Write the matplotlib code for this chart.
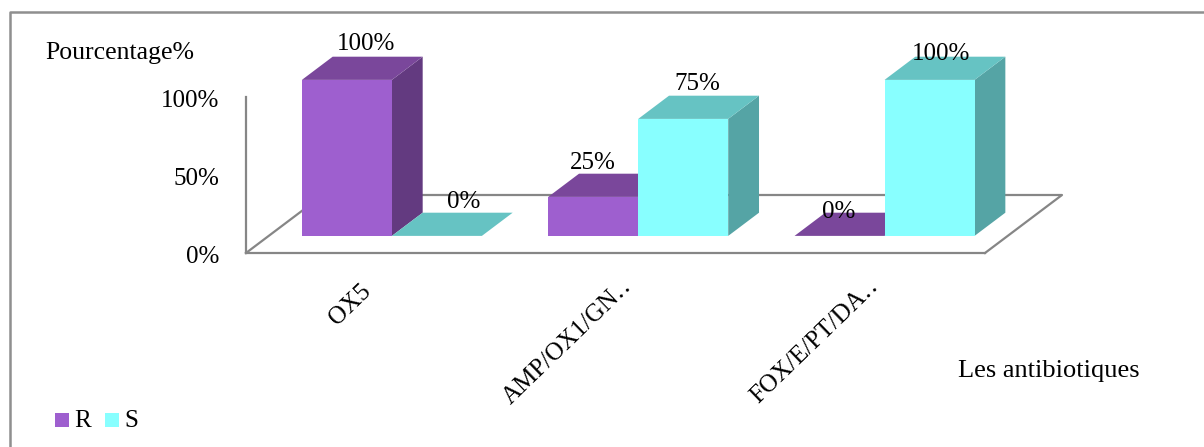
#!/usr/bin/env python3
"""Clustered pseudo-3D bars (R / S) per antibiotic profile, Excel style."""
import matplotlib
matplotlib.use("Agg")
import matplotlib.pyplot as plt
from matplotlib.lines import Line2D
from matplotlib.patches import Polygon, Rectangle
from matplotlib.transforms import Affine2D

categories = ["OX5", "AMP/OX1/GN\u2025", "FOX/E/PT/DA\u2025"]
r_values = [100, 25, 0]
s_values = [0, 75, 100]
y_ticks = [0, 50, 100]

W, H = 1204, 447
PURPLE = ("#9e5fcf", "#7a479b", "#633a80")
CYAN = ("#88ffff", "#66c3c3", "#55a4a5")
GREY = "#868686"

plt.rcParams["font.family"] = ["Liberation Serif", "DejaVu Serif"]
fig = plt.figure(figsize=(W / 100, H / 100), dpi=100)

# axes = front plane of the 3D box, in pixels of the picture
ax = fig.add_axes([246 / W, 1 - 253 / H, (985 - 246) / W, (253 - 97) / H])
ax.set_xlim(-0.5, 2.5)
ax.set_ylim(0, 100)
ax.patch.set_visible(False)
for side in ("top", "right"):
    ax.spines[side].set_visible(False)
for side in ("left", "bottom"):
    ax.spines[side].set_color(GREY)
    ax.spines[side].set_linewidth(1.6)

ax.set_yticks(y_ticks, [f"{v}%" for v in y_ticks], fontsize=18)
ax.set_xticks(range(3), ["", "", ""])
ax.tick_params(length=0, pad=19)
ax.tick_params(axis="x", pad=0)
for t in ax.get_yticklabels():
    t.set_transform(t.get_transform() + Affine2D().translate(0, -1.5))

# oblique projection: how far the full floor depth shifts a point
xpx = 3 / (985 - 246)
ypx = 100 / 156
DX, DY = 77 * xpx, 58 * ypx


def proj(x, y, d):
    return x + DX * d, y + DY * d


# floor outline, behind the bars
floor = [proj(-0.5, 0, 0), proj(-0.5, 0, 1), proj(2.5, 0, 1), proj(2.5, 0, 0)]
ax.add_line(Line2D(*zip(*floor), color=GREY, lw=1.6, clip_on=False, zorder=1))

D0, D1 = 0.295, 0.695
BW = 90 * xpx


def box(x0, val, cols, z):
    x1 = x0 + BW
    base = proj(x0, 0, D0)
    ax.bar(base[0], val, BW, bottom=base[1], align="edge", color=cols[0],
           clip_on=False, zorder=z + 0.2, lw=0)
    top = [proj(x0, val, D0), proj(x1, val, D0), proj(x1, val, D1), proj(x0, val, D1)]
    side = [proj(x1, 0, D0), proj(x1, val, D0), proj(x1, val, D1), proj(x1, 0, D1)]
    ax.add_patch(Polygon(side, color=cols[2], clip_on=False, zorder=z, lw=0))
    ax.add_patch(Polygon(top, color=cols[1], clip_on=False, zorder=z + 0.1, lw=0))


# hand placed data labels, pixel nudges from the back top centre of each box
r_nudge = [(-12, 13), (-31, 11), (-32, 1)]
s_nudge = [(-4, 11), (-17, 12), (-19, 3)]
for i in range(3):
    x0 = i - BW
    # the purple box sits left of the cyan one, so cyan is drawn over its side
    box(x0, r_values[i], PURPLE, 2)
    box(i, s_values[i], CYAN, 3)
    for xb, val, nudge in ((x0, r_values[i], r_nudge[i]), (i, s_values[i], s_nudge[i])):
        ax.annotate(f"{val}%", proj(xb + BW / 2, val, D1), xytext=nudge,
                    textcoords="offset pixels", fontsize=18, ha="center", va="center",
                    annotation_clip=False, zorder=6)

# rotated category labels, anchored at their upper right end
label_nudge = [(-1, -35), (13, -30), (13, -30)]
for i, lab in enumerate(categories):
    ax.annotate(lab, (i, 0), xytext=label_nudge[i], textcoords="offset pixels",
                xycoords="data", rotation=44, rotation_mode="anchor",
                ha="right", va="center", fontsize=18, annotation_clip=False)

fig.text(45 / W, 1 - 53 / H, "Pourcentage%", fontsize=18.5, va="center")
fig.text(958 / W, 1 - 371 / H, "Les antibiotiques", fontsize=19, va="center")

# legend
for x, col, lab in ((55, PURPLE[0], "R"), (105, CYAN[0], "S")):
    fig.add_artist(Rectangle((x / W, 1 - 427 / H), 14 / W, 14 / H, color=col, lw=0,
                             transform=fig.transFigure))
    fig.text((x + 19) / W, 1 - 421 / H, lab, fontsize=18, va="center")

# chart frame: only top and left edges fall inside the picture
fig.add_artist(Line2D([10 / W, 10 / W, 1], [0, 1 - 12 / H, 1 - 12 / H], color="#8f8f8f",
                      lw=1.8, transform=fig.transFigure))

fig.savefig("out.png", dpi=100)
